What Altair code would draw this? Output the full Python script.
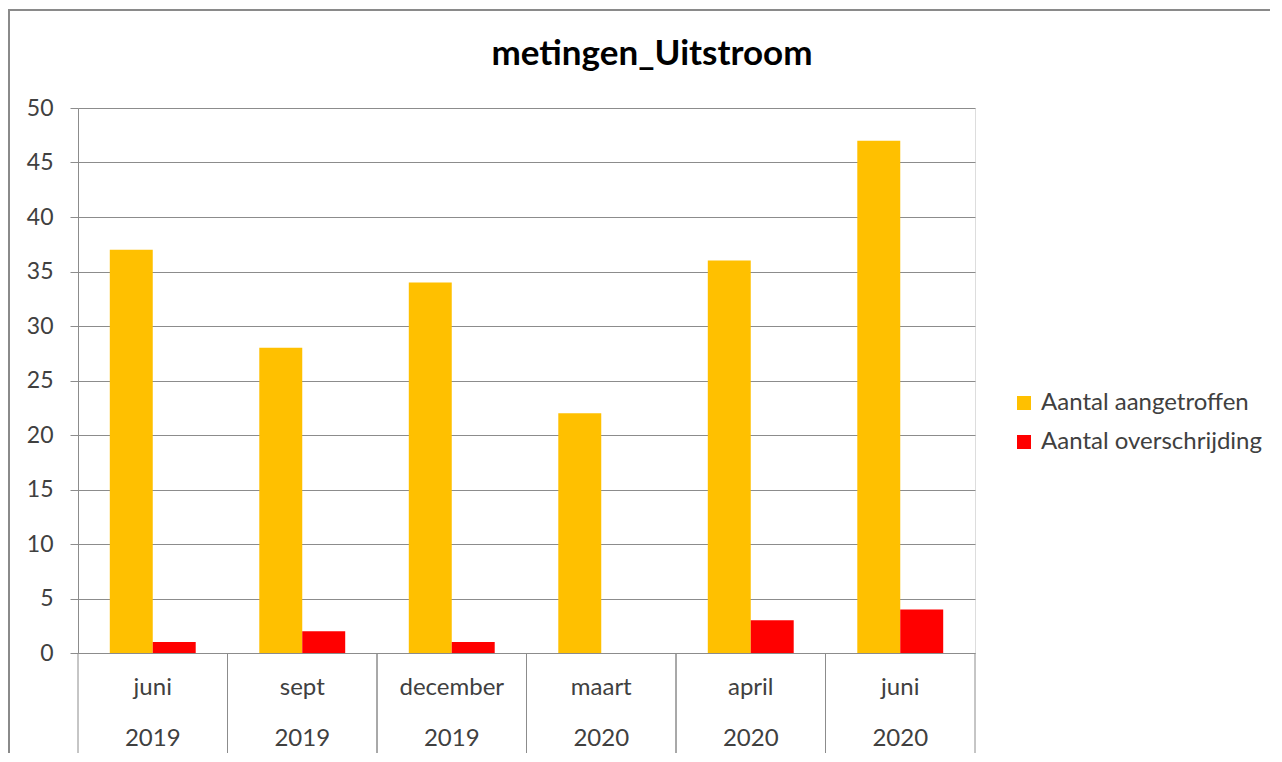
import altair as alt
import pandas as pd

# ---- data ----
chart_title = "metingen_Uitstroom"
months = ["juni", "sept", "december", "maart", "april", "juni"]
years = ["2019", "2019", "2019", "2020", "2020", "2020"]
aangetroffen = [37, 28, 34, 22, 36, 47]
overschrijding = [1, 2, 1, 0, 3, 4]
series = ["Aantal aangetroffen", "Aantal overschrijding"]
colors = ["#FFC000", "#FF0000"]
y_ticks = [0, 5, 10, 15, 20, 25, 30, 35, 40, 45, 50]

cats = [f"{m} {y}" for m, y in zip(months, years)]
rows = []
for c, a, o in zip(cats, aangetroffen, overschrijding):
    rows.append({"cat": c, "serie": series[0], "value": a})
    rows.append({"cat": c, "serie": series[1], "value": o})
df = pd.DataFrame(rows)
labels_df = pd.DataFrame({"cat": cats, "month": months, "year": years})

W, H = 897, 545
FONT = "Lato"
GRID = "#8c8c8c"
TXT = "#404040"

xscale = alt.Scale(domain=cats, paddingInner=0, paddingOuter=0)

bars = alt.Chart(df).mark_bar().encode(
    x=alt.X("cat:N", scale=xscale, sort=cats,
            axis=alt.Axis(title=None, labels=False, ticks=False,
                          domainColor=GRID, domainWidth=1, grid=False)),
    xOffset=alt.XOffset("serie:N", sort=series,
                        scale=alt.Scale(domain=series, paddingInner=0, paddingOuter=0.74)),
    y=alt.Y("value:Q", scale=alt.Scale(domain=[0, 50], nice=False),
            axis=alt.Axis(title=None, values=y_ticks, tickSize=8, tickColor=GRID,
                          labelPadding=17, labelFont=FONT, labelFontSize=23, labelColor=TXT,
                          grid=True, gridColor=GRID, gridWidth=1,
                          domainColor=GRID, domainWidth=1)),
    color=alt.Color("serie:N", sort=series,
                    scale=alt.Scale(domain=series, range=colors),
                    legend=alt.Legend(title=None, orient="none", legendX=934, legendY=283,
                                      symbolType="square", symbolSize=196, symbolStrokeWidth=0,
                                      labelFont=FONT, labelFontSize=24, labelColor=TXT,
                                      labelLimit=0, rowPadding=15, labelOffset=5, padding=0)),
)

sep_left = alt.Chart(labels_df).mark_rule(color=GRID, strokeWidth=1).encode(
    x=alt.X("cat:N", scale=xscale, sort=cats, axis=None, bandPosition=0),
    y=alt.value(H), y2=alt.value(H + 102),
)
sep_right = alt.Chart(labels_df).mark_rule(color=GRID, strokeWidth=1).encode(
    x=alt.X("cat:N", scale=xscale, sort=cats, axis=None, bandPosition=1),
    y=alt.value(H), y2=alt.value(H + 102),
)

month_text = alt.Chart(labels_df).mark_text(
    baseline="middle", fontSize=24, font=FONT, color=TXT
).encode(
    x=alt.X("cat:N", scale=xscale, sort=cats, axis=None),
    y=alt.value(H + 35),
    text="month:N",
)

year_text = alt.Chart(labels_df).mark_text(
    baseline="middle", fontSize=24, font=FONT, color=TXT
).encode(
    x=alt.X("cat:N", scale=xscale, sort=cats, axis=None),
    y=alt.value(H + 86),
    text="year:N",
)

title_text = alt.Chart(pd.DataFrame({"t": [chart_title]})).mark_text(
    baseline="alphabetic", align="center", fontSize=35, font=FONT,
    fontWeight="bold", color="#000000"
).encode(
    x=alt.value(574), y=alt.value(-43), text="t:N",
)

border = alt.Chart(pd.DataFrame({"a": [0]})).mark_rect(
    filled=False, stroke="#8a8a8a", strokeWidth=2
).encode(
    x=alt.value(-69), x2=alt.value(W + 400),
    y=alt.value(-98), y2=alt.value(H + 300),
)

chart = alt.layer(border, bars, sep_left, sep_right, month_text, year_text, title_text).properties(
    width=W, height=H,
    autosize=alt.AutoSizeParams(type="none"),
    padding={"left": 70, "top": 100, "right": 295, "bottom": 100},
).configure_view(stroke=None).configure(background="white")

chart.save("out.html", embed_options={"renderer": "svg", "actions": False})
